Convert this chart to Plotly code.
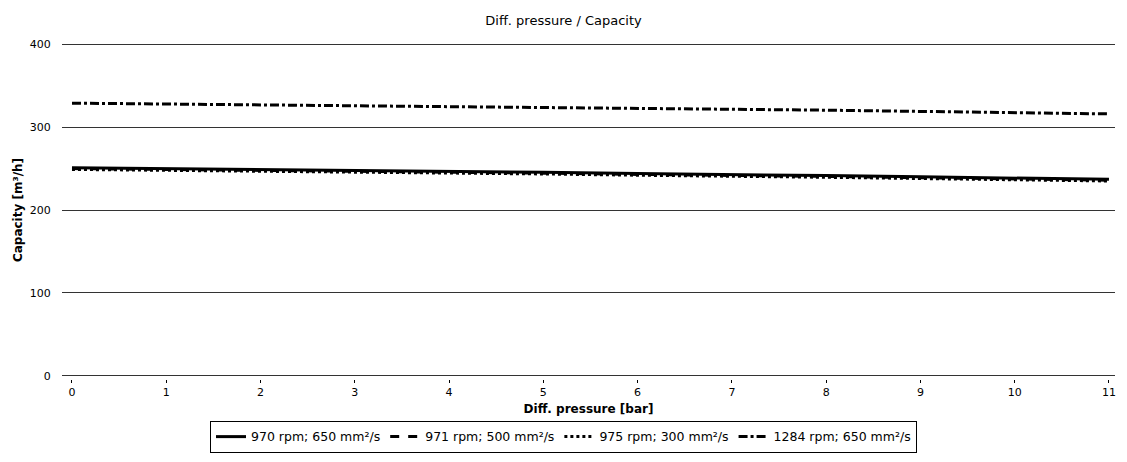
import plotly.graph_objects as go

pressure = [0, 1, 2, 3, 4, 5, 6, 7, 8, 9, 10, 11]
cap_970_650 = [251, 250, 249, 247.5, 246.5, 245.5, 244, 243, 241.5, 240, 238.5, 237]
cap_971_500 = [250, 249, 248, 246.5, 245.5, 244.5, 243, 242, 240.5, 239, 237.5, 236]
cap_975_300 = [249, 248, 247, 245.5, 244.5, 243.5, 242, 241, 239.5, 238, 236.5, 235]
cap_1284_650 = [329, 328, 327, 326, 325, 324, 323, 321.5, 320.5, 319, 317.5, 316]

series = [
    ("970 rpm; 650 mm²/s", cap_970_650, "solid"),
    ("971 rpm; 500 mm²/s", cap_971_500, "dash"),
    ("975 rpm; 300 mm²/s", cap_975_300, "dot"),
    ("1284 rpm; 650 mm²/s", cap_1284_650, "dashdot"),
]

fig = go.Figure()
for name, vals, dash in series:
    fig.add_trace(go.Scatter(x=pressure, y=vals, mode="lines", name=name,
                             line=dict(color="black", width=3, dash=dash)))

font = "DejaVu Sans"
fig.update_layout(
    width=1111, height=446,
    paper_bgcolor="white", plot_bgcolor="white",
    margin=dict(l=54, r=4, t=33, b=75, autoexpand=False),
    font=dict(family=font, size=11, color="black"),
    title=dict(text="Diff. pressure / Capacity", x=0.5, xanchor="center",
               yref="container", y=0.972, yanchor="middle",
               font=dict(family=font, size=13, color="black")),
    showlegend=True,
    legend=dict(orientation="h", xref="container", x=0.5, xanchor="center",
                yref="container", y=0.074, yanchor="top",
                bordercolor="black", borderwidth=1, font=dict(size=12.5),
                tracegroupgap=0),
    xaxis=dict(range=[-0.106, 11.064], tickvals=pressure, showgrid=False,
               zeroline=False, showline=False, ticks="outside", ticklen=3,
               tickcolor="black", automargin=False,
               title=dict(text="<b>Diff. pressure [bar]</b>", standoff=6,
                          font=dict(size=12))),
    yaxis=dict(range=[-4, 404], tickvals=[0, 100, 200, 300, 400], showgrid=True,
               gridcolor="#333", gridwidth=1, zeroline=False, showline=False,
               ticks="outside", ticklen=8, tickcolor="white", automargin=False,
               title=dict(text="<b>Capacity [m³/h]</b>", standoff=4,
                          font=dict(size=12))),
)
fig.write_html("out.html")
